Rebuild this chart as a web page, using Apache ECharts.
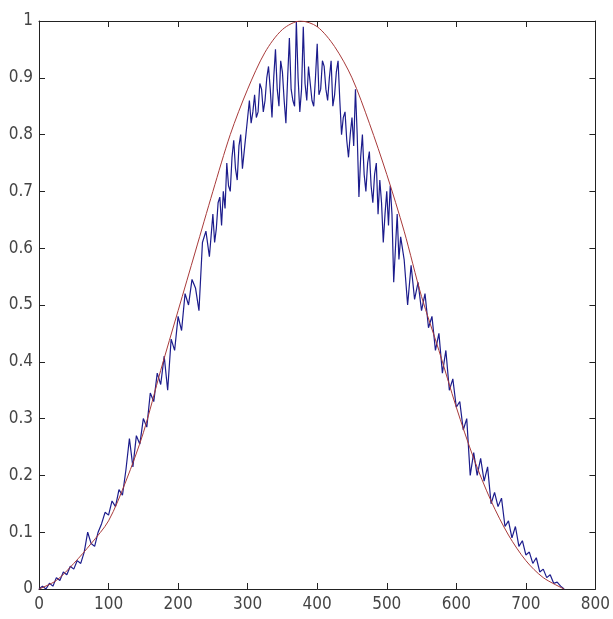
<!DOCTYPE html>
<html>
<head>
<meta charset="utf-8">
<script src="https://cdn.jsdelivr.net/npm/echarts@6/dist/echarts.min.js"></script>
<style>
html,body{margin:0;padding:0;background:#fff;}
#chart{width:613px;height:619px;}
</style>
</head>
<body>
<div id="chart"></div>
<script>
// Tick labels
const xTicks = [0, 100, 200, 300, 400, 500, 600, 700, 800];
const yTicks = [0, 0.1, 0.2, 0.3, 0.4, 0.5, 0.6, 0.7, 0.8, 0.9, 1];

// Red smooth envelope curve
const redX = [0,25,50,75,100,125,150,175,200,225,250,275,300,325,350,376,400,425,450,475,500,525,550,575,600,625,650,675,700,725,755];
const redY = [0,0.015,0.045,0.08,0.12,0.19,0.275,0.385,0.49,0.595,0.70,0.80,0.88,0.945,0.985,1.0,0.99,0.955,0.90,0.82,0.73,0.63,0.515,0.42,0.32,0.23,0.155,0.095,0.05,0.02,0];

// Blue noisy curve
const blueX = [0,5,10,15,20,25,30,35,40,45,50,55,60,65,70,75,80,85,90,95,
  100,105,110,115,120,125,130,135,140,145,150,155,160,165,170,175,180,185,190,195,
  200,205,210,215,220,225,230,235,240,245,
  250,252.5,255,257.5,260,262.5,265,267.5,270,272.5,275,277.5,280,282.5,285,287.5,290,292.5,295,297.5,
  300,302.5,305,307.5,310,312.5,315,317.5,320,322.5,325,327.5,330,332.5,335,337.5,340,342.5,345,347.5,
  350,352.5,355,357.5,360,362.5,365,367.5,370,372.5,375,377.5,380,382.5,385,387.5,390,392.5,395,397.5,
  400,402.5,405,407.5,410,412.5,415,417.5,420,422.5,425,427.5,430,432.5,435,437.5,440,442.5,445,447.5,
  450,452.5,455,457.5,460,462.5,465,467.5,470,472.5,475,477.5,480,482.5,485,487.5,490,492.5,495,497.5,
  500,502.5,505,507.5,510,512.5,515,517.5,520,525,530,535,540,545,550,555,560,565,570,575,580,585,590,595,
  600,605,610,615,620,625,630,635,640,645,650,655,660,665,670,675,680,685,690,695,
  700,705,710,715,720,725,730,735,740,745,750,755];
const blueY = [0.00,0.005,0.00,0.01,0.005,0.02,0.015,0.03,0.025,0.04,0.035,0.05,0.045,0.065,0.10,0.08,0.075,0.10,0.115,0.135,
  0.13,0.155,0.145,0.175,0.165,0.21,0.265,0.215,0.27,0.255,0.30,0.285,0.345,0.33,0.38,0.36,0.41,0.35,0.44,0.42,
  0.48,0.455,0.52,0.50,0.545,0.53,0.49,0.61,0.63,0.585,
  0.66,0.61,0.635,0.68,0.69,0.64,0.70,0.67,0.75,0.71,0.70,0.76,0.79,0.74,0.72,0.78,0.80,0.74,0.77,0.80,
  0.83,0.86,0.82,0.84,0.87,0.83,0.84,0.89,0.88,0.84,0.86,0.90,0.92,0.88,0.83,0.90,0.95,0.88,0.85,0.93,
  0.91,0.86,0.82,0.90,0.97,0.88,0.86,0.85,1.00,0.90,0.84,0.88,0.99,0.89,0.86,0.92,0.89,0.86,0.85,0.90,
  0.96,0.87,0.88,0.93,0.92,0.88,0.86,0.90,0.93,0.85,0.87,0.91,0.93,0.86,0.80,0.83,0.84,0.79,0.76,0.80,
  0.83,0.78,0.88,0.80,0.69,0.76,0.80,0.73,0.70,0.75,0.77,0.71,0.68,0.73,0.75,0.66,0.72,0.68,0.61,0.66,
  0.70,0.64,0.71,0.66,0.54,0.60,0.66,0.58,0.62,0.58,0.50,0.57,0.51,0.54,0.49,0.52,0.46,0.48,0.42,0.45,0.38,0.42,0.35,0.37,
  0.32,0.33,0.28,0.30,0.20,0.24,0.20,0.23,0.19,0.215,0.15,0.17,0.145,0.16,0.11,0.12,0.09,0.11,0.075,0.085,
  0.06,0.065,0.045,0.055,0.03,0.035,0.02,0.025,0.01,0.012,0.005,0.0];

const redData = redX.map((x, i) => [x, redY[i]]);
const blueData = blueX.map((x, i) => [x, blueY[i]]);

const FONT = "'Liberation Sans Narrow', 'DejaVu Sans Condensed', 'Liberation Sans', Arial, sans-serif";
const axisCol = '#222222';

function xAxisCfg(pos, showLabels) {
  return {
    type: 'value', position: pos, min: xTicks[0], max: xTicks[xTicks.length - 1],
    interval: xTicks[1] - xTicks[0],
    axisLine: { show: true, onZero: false, lineStyle: { color: axisCol, width: 1 } },
    axisTick: { show: true, inside: true, length: 6, lineStyle: { color: axisCol } },
    axisLabel: { show: showLabels, color: '#444', fontSize: 17, fontFamily: FONT, margin: 7 },
    splitLine: { show: false }
  };
}
function yAxisCfg(pos, showLabels) {
  return {
    type: 'value', position: pos, min: yTicks[0], max: yTicks[yTicks.length - 1],
    interval: 0.1,
    axisLine: { show: true, onZero: false, lineStyle: { color: axisCol, width: 1 } },
    axisTick: { show: true, inside: true, length: 6, lineStyle: { color: axisCol } },
    axisLabel: { show: showLabels, color: '#444', fontSize: 17, fontFamily: FONT, margin: 6 },
    splitLine: { show: false }
  };
}

const chart = echarts.init(document.getElementById('chart'), null, { renderer: 'canvas' });
chart.setOption({
  animation: false,
  backgroundColor: '#ffffff',
  grid: { left: 39, right: 15, top: 21, bottom: 30, containLabel: false },
  xAxis: [xAxisCfg('bottom', true), xAxisCfg('top', false)],
  yAxis: [yAxisCfg('left', true), yAxisCfg('right', false)],
  series: [
    {
      type: 'line', data: blueData, xAxisIndex: 0, yAxisIndex: 0,
      showSymbol: false, symbol: 'none',
      lineStyle: { color: '#1c1c8c', width: 1.2 }
    },
    {
      type: 'line', data: redData, xAxisIndex: 0, yAxisIndex: 0,
      showSymbol: false, symbol: 'none', smooth: 0.3,
      lineStyle: { color: '#a83a3a', width: 1 }
    }
  ]
});
</script>
</body>
</html>
